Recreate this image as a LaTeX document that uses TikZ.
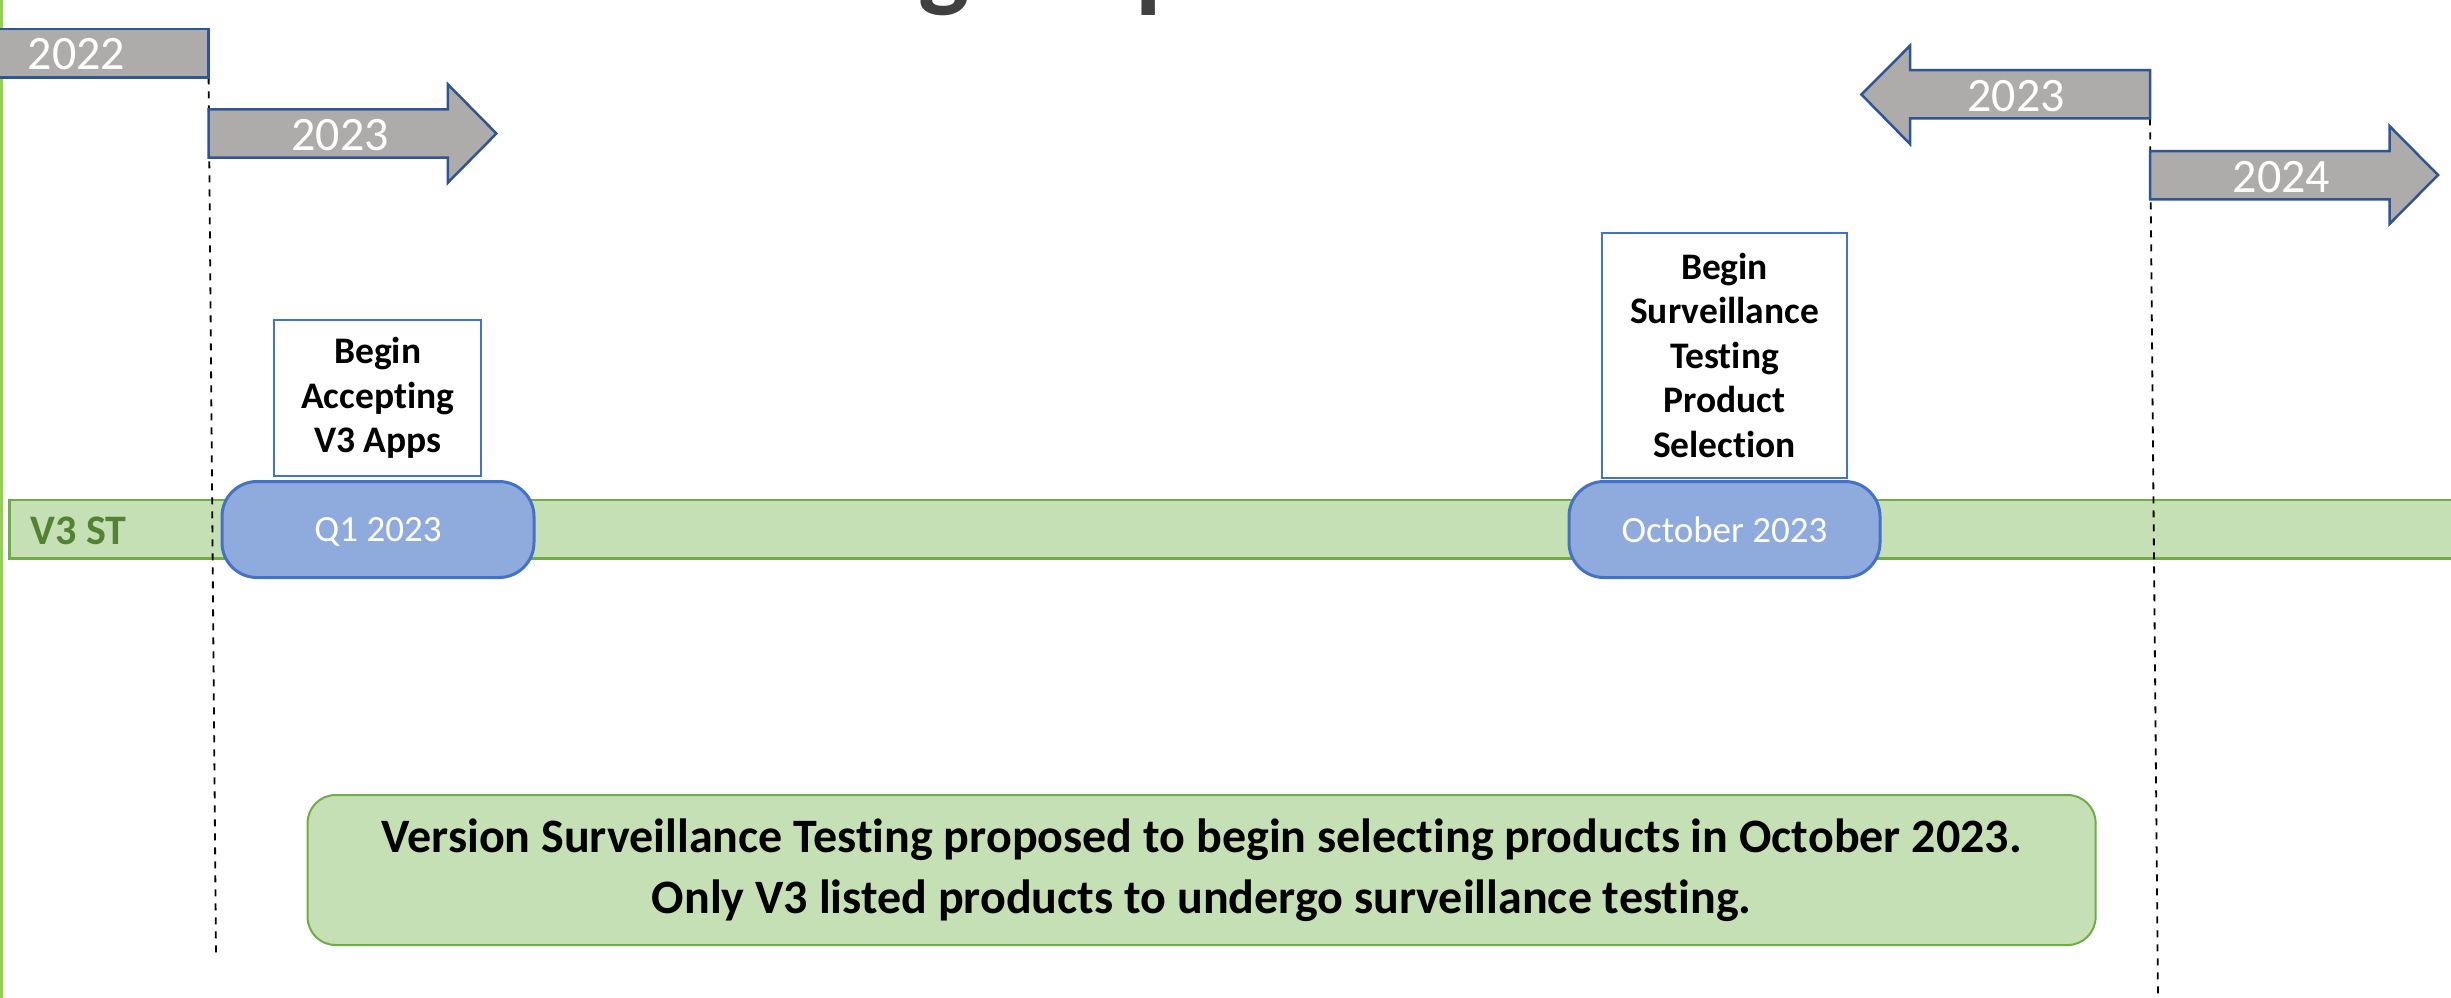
\documentclass[tikz,border=0pt]{standalone}
\usepackage{fontspec}
\setmainfont{Carlito}[Ligatures=NoCommon]
\definecolor{yeargray}{HTML}{AEABAB}
\definecolor{arrowblue}{HTML}{2F5597}
\definecolor{bandfill}{HTML}{C5E0B4}
\definecolor{bandline}{HTML}{70AD47}
\definecolor{bandtext}{HTML}{548235}
\definecolor{msfill}{HTML}{8FAADC}
\definecolor{msline}{HTML}{4472C4}
\definecolor{edgegreen}{HTML}{92D050}
\definecolor{titlegray}{HTML}{404040}
\tikzset{
  yeararrow/.style={fill=yeargray, draw=arrowblue, line width=2.5pt, line join=miter},
  yeartext/.style={text=white, inner sep=0pt, text depth=0pt, font=\fontsize{48}{57}\selectfont},
  milestone/.style={rectangle, rounded corners=35pt, fill=msfill, draw=msline,
    line width=3pt, text=white, inner sep=0pt, minimum height=96pt, text depth=0pt,
    font=\fontsize{37}{44}\selectfont},
  notebox/.style={rectangle, draw=msline, line width=2pt, fill=white, align=center,
    inner sep=0pt, font=\bfseries\fontsize{37.5}{44.5}\selectfont},
  guide/.style={draw=black, line width=1.8pt, dash pattern=on 7pt off 7pt},
  titleglyph/.style={inner sep=0pt, text=titlegray, font=\bfseries\fontsize{108}{120}\selectfont},
}
\begin{document}
\begin{tikzpicture}[x=1pt, y=-1pt]
\useasboundingbox (0,0) rectangle (2451,997);
\clip (0,0) rectangle (2451,997);
\fill[white] (0,0) rectangle (2451,997);

% descenders of the heading above the frame
\node[titleglyph, anchor=south] (hg) at (944.5,16) {g};
\node[titleglyph, anchor=south west] (hp) at (1135,16) {p};

% green frame edge
\draw[edgegreen, line width=3pt] (1.5,-5) -- (1.5,1005);

% V3 ST lane
\draw[fill=bandfill, draw=bandline, line width=2.5pt] (9.6,500) rectangle (2480,558.3);
\node[inner sep=0pt, text depth=0pt, text=bandtext, font=\bfseries\fontsize{42}{50}\selectfont] (lane) at (78.5,530.5) {V3 ST};

% summary note
\node[rectangle, rounded corners=28pt, fill=bandfill, draw=bandline, line width=2pt,
      minimum width=1788pt, minimum height=150pt, align=center, inner sep=0pt,
      font=\bfseries\fontsize{48}{61}\selectfont] (summary) at (1201.6,870)
  {Version Surveillance Testing proposed to begin selecting products in October 2023.\\
   Only V3 listed products to undergo surveillance testing.};

% year boundaries
\coordinate (g1top) at (208.6,77.3);
\coordinate (g1bot) at (216,956);
\coordinate (g2top) at (2150,118.3);
\coordinate (g2bot) at (2158,1000);
\draw[guide] (g1top) -- (g1bot);
\draw[guide] (g2top) -- (g2bot);

% year arrows
\draw[yeararrow] (-10,29) -- (208.6,29) -- (208.6,77.3) -- (-10,77.3) -- cycle;
\node[yeartext] (y2022) at (76.5,54) {2022};

\draw[yeararrow] (208.6,109.3) -- (447.8,109.3) -- (447.8,84.3) -- (496.4,133.5)
  -- (447.8,182.7) -- (447.8,157.7) -- (208.6,157.7) -- cycle;
\node[yeartext] (y2023a) at (340,135) {2023};

\draw[yeararrow] (2150,70) -- (1910,70) -- (1910,45.7) -- (1861.4,94.5)
  -- (1910,144) -- (1910,118.3) -- (2150,118.3) -- cycle;
\node[yeartext] (y2023b) at (2016,96) {2023};

\draw[yeararrow] (2150,151) -- (2389.5,151) -- (2389.5,126) -- (2438,175)
  -- (2389.5,224) -- (2389.5,199.3) -- (2150,199.3) -- cycle;
\node[yeartext] (y2024) at (2281.5,176.5) {2024};

% milestones
\node[milestone, minimum width=312pt] (q1) at (378,529.5) {Q1 2023};
\node[milestone, minimum width=311pt] (oct) at (1724.5,529.5) {October 2023};

\node[notebox, minimum width=207pt, minimum height=155.7pt] (accept) at (377.7,397.8)
  {Begin\\Accepting\\V3 Apps};
\node[notebox, minimum width=245pt, minimum height=245.3pt] (select) at (1724.5,355.4)
  {Begin\\Surveillance\\Testing\\Product\\Selection};
\end{tikzpicture}
\end{document}
